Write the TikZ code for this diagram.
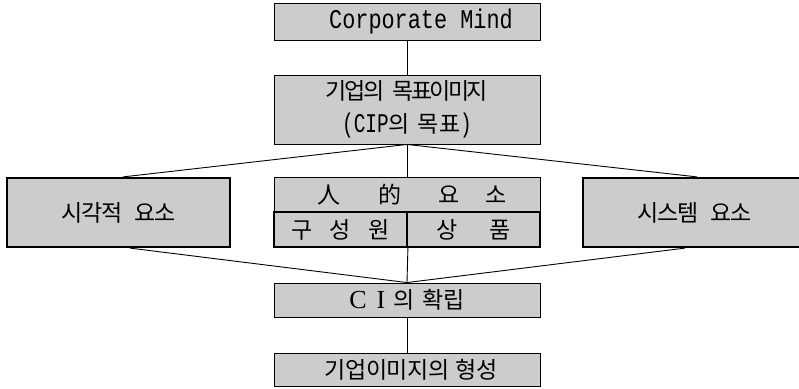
\documentclass[tikz,border=0pt]{standalone}
\usepackage{fontspec}
\setmainfont{Noto Sans CJK KR}
\newfontfamily\monof{Liberation Mono}
\newfontfamily\serf{Liberation Serif}
\usetikzlibrary{calc}
\definecolor{boxfill}{gray}{0.80}
\newcommand{\latm}[2]{{\fontsize{27}{27}\monof\scalebox{#1}[1]{#2}}}
\tikzset{
  thinbox/.style={draw=black, line width=0.9pt, fill=boxfill, inner sep=0pt,
    minimum width=266pt, font=\fontsize{23}{27}\selectfont},
  heavybox/.style={thinbox, line width=2.2pt},
  halfbox/.style={thinbox, line width=1.8pt, minimum width=133pt, minimum height=35pt},
  sidebox/.style={heavybox, minimum width=223pt, minimum height=69pt},
  link/.style={line width=0.9pt}
}
\begin{document}
\begin{tikzpicture}[x=1pt,y=-1pt]
\useasboundingbox (0,0) rectangle (799,388);
\clip (0,0) rectangle (799,388);
\node[thinbox, minimum height=37pt] (cm) at (407,21.5)
  {\hspace{28pt}\latm{0.81}{Corporate Mind}};
\node[thinbox, minimum height=69pt, align=center, font=\fontsize{23}{33}\selectfont] (goal) at (407,109.5)
  {\addfontfeature{LetterSpace=-11}기업의\hspace{8pt}목표이미지\\
   \latm{0.72}{(CIP}의\hspace{8pt}목표\latm{0.72}{)}};
\node[sidebox] (vis) at (118.5,212.5)
  {\addfontfeature{LetterSpace=-6}시각적\hspace{12pt}요소\hspace{9pt}};
\node[sidebox] (sys) at (694.5,212.5)
  {\addfontfeature{LetterSpace=-6}시스템\hspace{12pt}요소\hspace{9pt}};
\node[thinbox, minimum height=35pt] (human) at (407,194.5)
  {\hspace{10pt}人\hspace{38pt}的\hspace{37pt}요\hspace{26pt}소};
\node[halfbox] (member) at (340.5,229.5) {구\hspace{17pt}성\hspace{17pt}원};
\node[halfbox] (product) at (473.5,229.5) {상\hspace{32pt}품};
\node[thinbox, minimum height=34pt] (ci) at (407,300)
  {{\fontsize{26}{26}\serf C}\hspace{10pt}{\fontsize{26}{26}\serf I}\hspace{8pt}의\hspace{8pt}확립\hspace{34pt}};
\node[thinbox, minimum height=33pt] (form) at (407,369.5)
  {\hspace{8pt}\addfontfeature{LetterSpace=-2}기업이미지의\hspace{6pt}형성};
\draw[link] (cm.south) -- (goal.north);
\draw[link] (goal.south) -- (human.north);
\draw[link] (goal.south) -- ([xshift=4.5pt]vis.north);
\draw[link] (goal.south) -- ([xshift=2.5pt]sys.north);
\draw[link] ([xshift=11.5pt]vis.south) -- (ci.north);
\draw[link] ([xshift=-9.5pt]sys.south) -- (ci.north);
\draw[link] (member.south east) -- (ci.north);
\draw[link] (ci.south) -- (form.north);
\end{tikzpicture}
\end{document}
